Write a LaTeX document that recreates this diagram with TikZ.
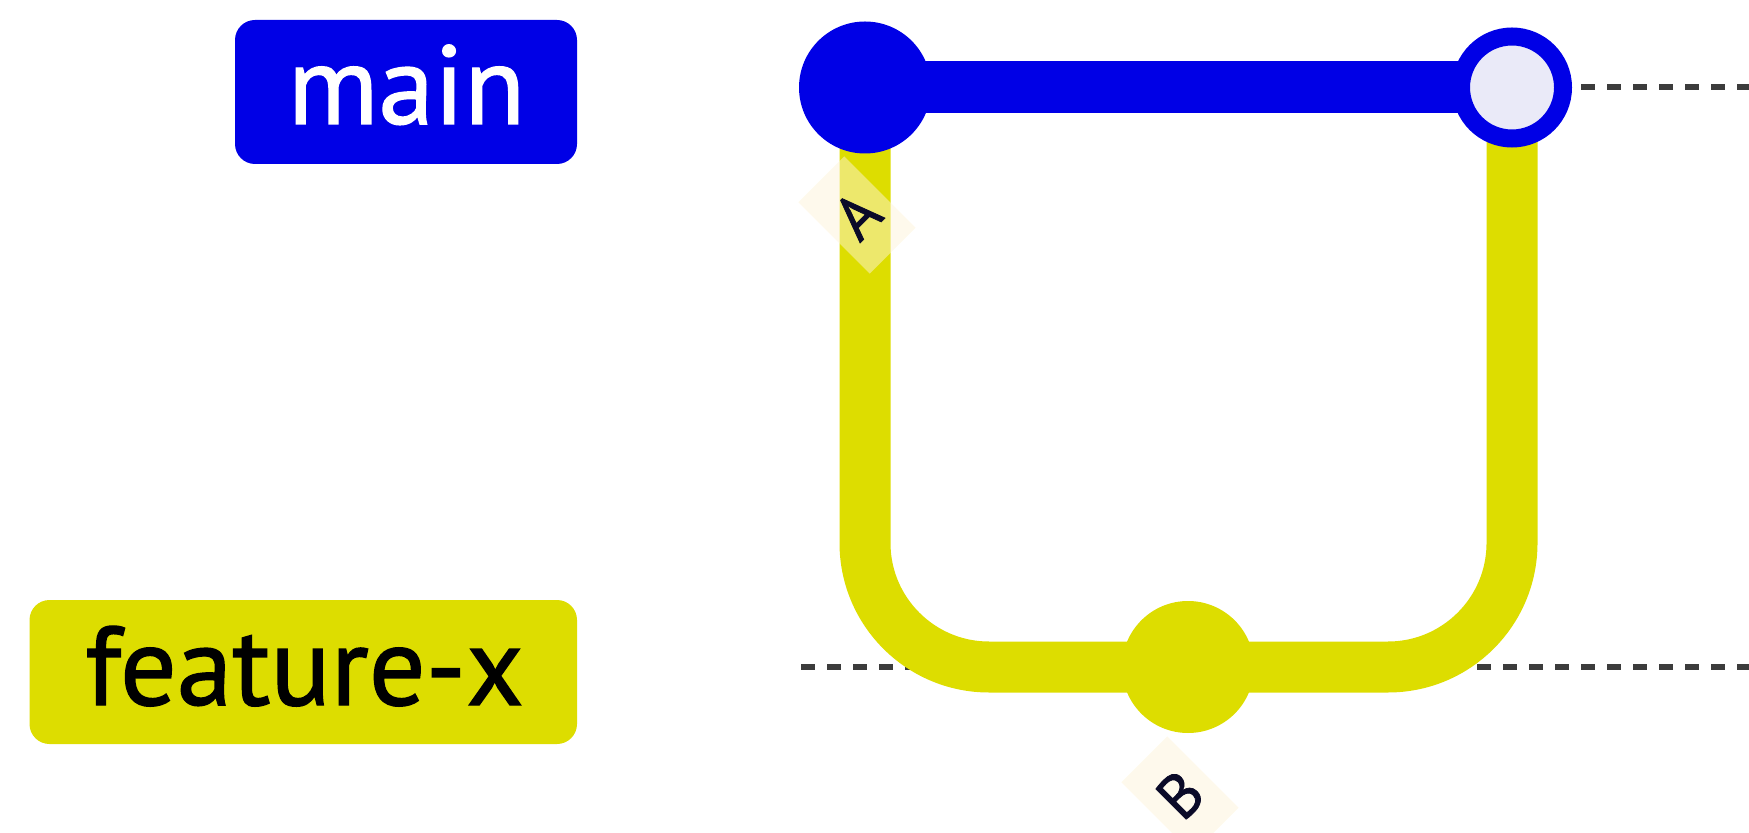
\documentclass[tikz,border=0pt]{standalone}
\usepackage{fontspec}
\setmainfont{PT Sans}
\newfontfamily\heavyfont{PT Sans}[FakeBold=1.2]
\usetikzlibrary{backgrounds}
\definecolor{mainblue}{RGB}{0,0,230}
\definecolor{featyellow}{RGB}{221,221,0}
\definecolor{mergefill}{RGB}{234,234,248}
\definecolor{dotgray}{RGB}{60,60,60}
\definecolor{labelbg}{RGB}{253,244,217}
\definecolor{labeltext}{RGB}{10,10,40}
\begin{document}
\begin{tikzpicture}[x=0.5pt,y=-0.5pt,
  branchbox/.style={rounded corners=10pt, minimum height=72pt, inner sep=0pt, font=\heavyfont\fontsize{56}{60}\selectfont},
  mainbox/.style={branchbox, fill=mainblue, minimum width=171pt},
  featbox/.style={branchbox, fill=featyellow, minimum width=273.75pt},
  branchtext/.style={inner sep=0pt, anchor=base, font=\heavyfont\fontsize{56}{60}\selectfont},
  commitdot/.style={circle, inner sep=0pt, outer sep=0pt, minimum size=66pt},
  mergedot/.style={circle, inner sep=0pt, outer sep=0pt, minimum size=51pt, fill=mergefill, draw=mainblue, line width=9pt},
  blueline/.style={draw=mainblue, line width=26pt},
  yellowline/.style={draw=featyellow, line width=25.5pt, rounded corners=62pt},
  dotline/.style={draw=dotgray, line width=3pt, dash pattern=on 7pt off 6pt},
  commitlabel/.style={fill=labelbg, fill opacity=0.5, text opacity=1, text=labeltext, rotate=45, minimum width=32.5pt, minimum height=50.5pt, inner sep=0pt, font=\heavyfont\fontsize{31}{34}\selectfont}
]
\useasboundingbox (0,0) rectangle (1749,833);
% branch labels
\node[mainbox] (bmain) at (406,92) {};
\node[branchtext, text=white] (tmain) at (406.5,124) {main};
\node[featbox] (bfeat) at (303.25,672) {};
\node[branchtext, text=black] (tfeat) at (304.5,705) {feature-x};
% branch lanes
\coordinate (mainStart) at (801,87.5);
\coordinate (mainEnd) at (1749,87.5);
\coordinate (featStart) at (801,667);
\coordinate (featEnd) at (1749,667);
% commits
\node[commitdot, fill=mainblue] (cA) at (865,87.5) {};
\node[commitdot, fill=featyellow] (cB) at (1188,667) {};
\node[mergedot] (cM) at (1512,87.5) {};
% commit labels
\node[commitlabel] (lA) at (857,215) {A};
\node[commitlabel] (lB) at (1180,795) {B};
\begin{scope}[on background layer]
  \draw[dotline] (mainStart) -- (mainEnd);
  \draw[dotline] (featStart) -- (featEnd);
  \draw[yellowline] (cA.center) |- (cB.center);
  \draw[yellowline] (cB.center) -| (cM.center);
  \draw[blueline] (cA.center) -- (cM.center);
\end{scope}
\end{tikzpicture}
\end{document}
